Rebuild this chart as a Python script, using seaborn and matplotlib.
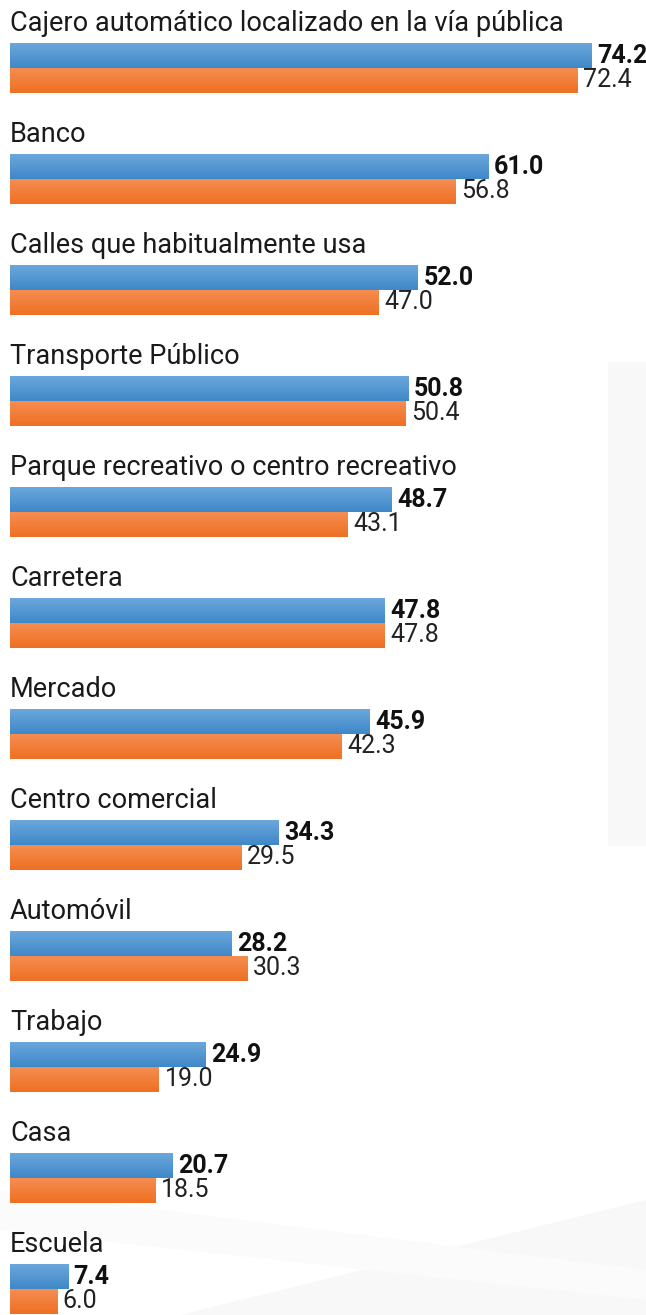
import numpy as np
import pandas as pd
import matplotlib
matplotlib.use("Agg")
import matplotlib.pyplot as plt
from matplotlib.colors import LinearSegmentedColormap
from matplotlib.patches import Rectangle, Polygon
import seaborn as sns

# datos
lugares = ["Cajero automático localizado en la vía pública", "Banco",
           "Calles que habitualmente usa", "Transporte Público",
           "Parque recreativo o centro recreativo", "Carretera", "Mercado",
           "Centro comercial", "Automóvil", "Trabajo", "Casa", "Escuela"]
valores_actual = [74.2, 61.0, 52.0, 50.8, 48.7, 47.8, 45.9, 34.3, 28.2, 24.9, 20.7, 7.4]
valores_anterior = [72.4, 56.8, 47.0, 50.4, 43.1, 47.8, 42.3, 29.5, 30.3, 19.0, 18.5, 6.0]
series = ["actual", "anterior"]

df = pd.DataFrame({
    "lugar": lugares * 2,
    "serie": [series[0]] * len(lugares) + [series[1]] * len(lugares),
    "valor": valores_actual + valores_anterior,
})

azul = ("#6ba7dc", "#3f88c8")
naranja = ("#f58d52", "#ee7022")

sns.set_theme(style="white")
plt.rcParams["font.family"] = ["Roboto", "DejaVu Sans"]

W, H = 646, 1315
fig = plt.figure(figsize=(W / 100, H / 100), dpi=100)
fig.patch.set_facecolor("white")

# fondo decorativo
def px(x, y):
    return (x / W, 1 - y / H)

fig.patches.append(Rectangle(px(608, 846), 38 / W, 484 / H, transform=fig.transFigure,
                             facecolor="#f8f8f8", edgecolor="none", zorder=0))
fig.patches.append(Polygon([px(180, 1315), px(646, 1200), px(646, 1315)], closed=True,
                           transform=fig.transFigure, facecolor="#f8f8f8", edgecolor="none", zorder=0))
fig.patches.append(Polygon([px(0, 1190), px(0, 1230), px(646, 1300), px(646, 1270)], closed=True,
                           transform=fig.transFigure, facecolor="#fbfbfb", edgecolor="none", zorder=0))

ax = fig.add_axes([0, 0, 1, 1])
ax.set_zorder(2)
sns.barplot(data=df, y="lugar", x="valor", hue="serie", orient="h",
            palette=[azul[1], naranja[1]], saturation=1, width=0.45,
            linewidth=0, legend=False, ax=ax)

# degradado vertical en cada barra
grad = np.linspace(0, 1, 64).reshape(-1, 1)
for cont, cols in zip(ax.containers, [azul, naranja]):
    cmap = LinearSegmentedColormap.from_list("g", cols)
    for p in cont.patches:
        x0, y0, w, h = p.get_x(), p.get_y(), p.get_width(), p.get_height()
        im = ax.imshow(grad, cmap=cmap, aspect="auto", origin="upper",
                       extent=(x0, x0 + w, y0 + h, y0), zorder=p.get_zorder() + 0.1)
        im.set_clip_path(p)

ax.bar_label(ax.containers[0], fmt="%.1f", padding=4, fontsize=18,
             fontweight="bold", color="#111111")
ax.bar_label(ax.containers[1], fmt="%.1f", padding=4, fontsize=18, color="#222222")

for i, nombre in enumerate(lugares):
    ax.text(0, i - 0.4, nombre, ha="left", va="center",
            fontsize=19.5, color="#1a1a1a")

ax.set_xlim(-10 / 7.84, (W - 10) / 7.84)
ax.set_ylim((H - 68) / 111, -68 / 111)
ax.set_axis_off()

plt.savefig("out.png", dpi=100)
